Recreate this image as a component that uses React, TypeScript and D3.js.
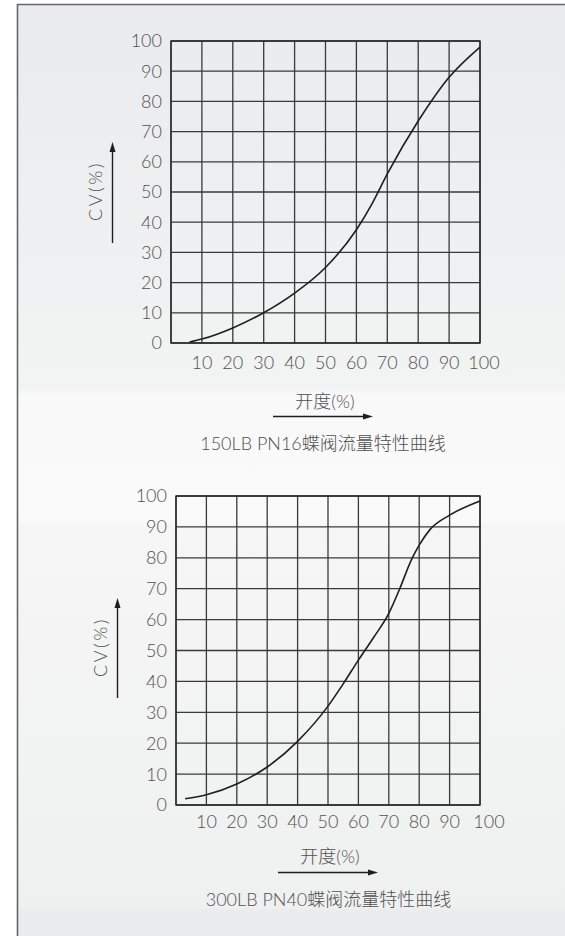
import React from "react";
import * as d3 from "d3";

// ---- data ----
const xTicks = [10, 20, 30, 40, 50, 60, 70, 80, 90, 100];
const yTicks = [0, 10, 20, 30, 40, 50, 60, 70, 80, 90, 100];
const gridValues = [0, 10, 20, 30, 40, 50, 60, 70, 80, 90, 100];

const curve150Opening = [6, 10, 20, 30, 40, 50, 60, 65, 70, 80, 90, 100];
const curve150Cv = [0.3, 1.3, 5, 10, 16.5, 25, 37.5, 46, 56, 73.5, 88, 98];

const curve300Opening = [3, 10, 20, 30, 40, 50, 55, 60, 65, 70, 73.6, 77.5, 80, 83.6, 90, 100];
const curve300Cv = [2, 3.3, 6.8, 12.3, 20.6, 32, 39.2, 46.9, 54.2, 62, 70, 79.5, 84.1, 89.2, 93.8, 98.4];

const xTitle = "开度(%)";
const yTitle = "CV(%)";
const title150 = "150LB PN16蝶阀流量特性曲线";
const title300 = "300LB PN40蝶阀流量特性曲线";

// ---- layout ----
const W = 565;
const H = 936;
const FONT = "Lato, 'Noto Sans CJK SC', sans-serif";
const TEXT = "#505050";
const FS = 18;

type ChartCfg = {
  left: number; right: number; top: number; bottom: number;
  xs: number[]; ys: number[]; title: string;
  xLabelDy: number; lastLabelDx: number;
  yTitleX: number; yTitleY: number; yArrowX: number; yArrowTop: number; yArrowBottom: number;
  xTitleX: number; xTitleY: number; xArrowY: number; xArrowL: number; xArrowR: number;
  titleX: number; titleY: number;
};

const charts: ChartCfg[] = [
  {
    left: 171, right: 480, top: 41, bottom: 343,
    xs: curve150Opening, ys: curve150Cv, title: title150,
    xLabelDy: 20, lastLabelDx: 4,
    yTitleX: 96, yTitleY: 191, yArrowX: 112.5, yArrowTop: 142, yArrowBottom: 243,
    xTitleX: 325, xTitleY: 402, xArrowY: 416.5, xArrowL: 273, xArrowR: 373,
    titleX: 323, titleY: 444,
  },
  {
    left: 176, right: 480, top: 496, bottom: 805,
    xs: curve300Opening, ys: curve300Cv, title: title300,
    xLabelDy: 17, lastLabelDx: 9,
    yTitleX: 101, yTitleY: 647, yArrowX: 117.5, yArrowTop: 598, yArrowBottom: 698,
    xTitleX: 330, xTitleY: 857, xArrowY: 872.5, xArrowL: 278, xArrowR: 378,
    titleX: 328.5, titleY: 900,
  },
];

function Chart({ c }: { c: ChartCfg }) {
  const x = d3.scaleLinear().domain([0, 100]).range([c.left, c.right]);
  const y = d3.scaleLinear().domain([0, 100]).range([c.bottom, c.top]);
  const pts: [number, number][] = c.xs.map((v, i) => [v, c.ys[i]]);
  const line = d3
    .line<[number, number]>()
    .x((d) => x(d[0]))
    .y((d) => y(d[1]))
    .curve(d3.curveMonotoneX);
  return (
    <g>
      {gridValues.map((v) => (
        <line key={"v" + v} x1={x(v)} x2={x(v)} y1={c.top} y2={c.bottom}
          stroke="#3a3a3a" strokeWidth={1.3} />
      ))}
      {gridValues.map((v) => (
        <line key={"h" + v} x1={c.left} x2={c.right} y1={y(v)} y2={y(v)}
          stroke="#3a3a3a" strokeWidth={1.3} />
      ))}
      <rect x={c.left} y={c.top} width={c.right - c.left} height={c.bottom - c.top}
        fill="none" stroke="#2a2a2a" strokeWidth={1.4} />
      <path d={line(pts) || ""} fill="none" stroke="#1e1e1e" strokeWidth={1.6} />
      {yTicks.map((v) => (
        <text key={"yl" + v} x={c.left - 9} y={y(v)} dy="0.36em" textAnchor="end"
          fontSize={FS} fill={TEXT} fontFamily={FONT} fontWeight={300}>{v}</text>
      ))}
      {xTicks.map((v) => (
        <text key={"xl" + v} x={x(v) + (v === 100 ? c.lastLabelDx : 0)} y={c.bottom + c.xLabelDy}
          dy="0.36em" textAnchor="middle" fontSize={FS} fill={TEXT} fontFamily={FONT} fontWeight={300}>{v}</text>
      ))}
      <text x={c.yTitleX} y={c.yTitleY} transform={`rotate(-90 ${c.yTitleX} ${c.yTitleY})`}
        textAnchor="middle" dy="0.36em" fontSize={FS} fill={TEXT} fontFamily={FONT}
        fontWeight={300} letterSpacing={2.5}>{yTitle}</text>
      <line x1={c.yArrowX} x2={c.yArrowX} y1={c.yArrowBottom} y2={c.yArrowTop + 8}
        stroke="#1e1e1e" strokeWidth={1.4} />
      <path d={`M${c.yArrowX},${c.yArrowTop} L${c.yArrowX - 3},${c.yArrowTop + 10} L${c.yArrowX + 3},${c.yArrowTop + 10} Z`}
        fill="#1e1e1e" />
      <text x={c.xTitleX} y={c.xTitleY} textAnchor="middle" dy="0.36em" fontSize={FS}
        fill={TEXT} fontFamily={FONT} fontWeight={300}>{xTitle}</text>
      <line x1={c.xArrowL} x2={c.xArrowR - 8} y1={c.xArrowY} y2={c.xArrowY}
        stroke="#1e1e1e" strokeWidth={1.4} />
      <path d={`M${c.xArrowR},${c.xArrowY} L${c.xArrowR - 10},${c.xArrowY - 3} L${c.xArrowR - 10},${c.xArrowY + 3} Z`}
        fill="#1e1e1e" />
      <text x={c.titleX} y={c.titleY} textAnchor="middle" dy="0.36em" fontSize={FS}
        fill={TEXT} fontFamily={FONT} fontWeight={300}>{c.title}</text>
    </g>
  );
}

export default function App() {
  return (
    <svg width={W} height={H} viewBox={`0 0 ${W} ${H}`}
      style={{ position: "absolute", left: 0, top: 0, display: "block" }}>
      <defs>
        <linearGradient id="bg" x1="0" y1="0" x2="0" y2="1">
          <stop offset="0" stopColor="#eaebed" />
          <stop offset="0.41" stopColor="#f2f3f3" />
          <stop offset="0.42" stopColor="#f9f9f9" />
          <stop offset="0.555" stopColor="#fafafa" />
          <stop offset="0.56" stopColor="#f6f6f6" />
          <stop offset="0.97" stopColor="#eff0f0" />
          <stop offset="0.972" stopColor="#ebeced" />
          <stop offset="1" stopColor="#ebeced" />
        </linearGradient>
      </defs>
      <rect x={0} y={0} width={W} height={H} fill="#ffffff" />
      <rect x={17} y={4} width={W - 17} height={H - 4} fill="url(#bg)" />
      <line x1={17.5} x2={17.5} y1={4} y2={H} stroke="#666" strokeWidth={1.6} />
      <line x1={17} x2={W} y1={4.5} y2={4.5} stroke="#666" strokeWidth={1.4} />
      {charts.map((c, i) => (
        <Chart key={i} c={c} />
      ))}
    </svg>
  );
}
